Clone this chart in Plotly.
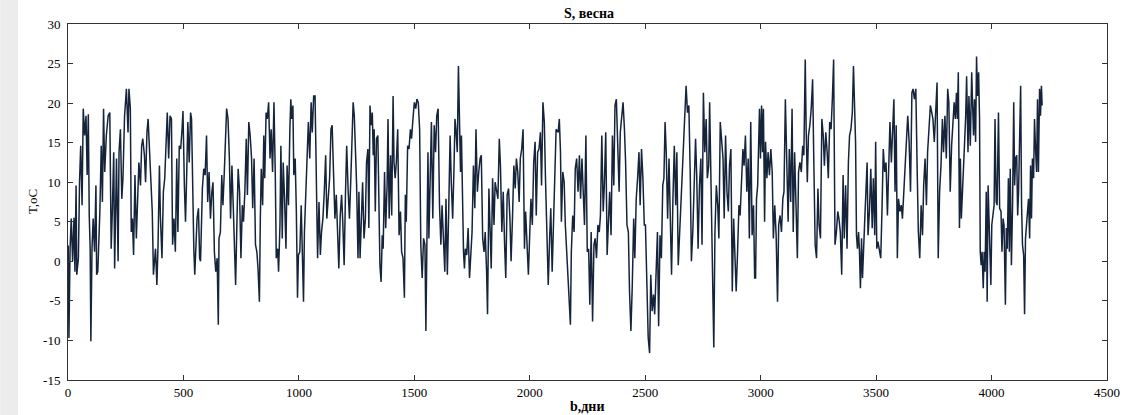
import plotly.graph_objects as go

# (day, temperature) readings, segment by segment
seg_0000_0400 = [(1, 2.0), (4, -9.7), (9, 1.6), (14, 5.4), (20, 0.0), (26, 5.5), (30, -1.3), (35, 9.6), (38, -1.7), (45, 0.4), (50, 10.0), (55, 14.6), (61, 7.1), (66, 19.3), (72, 15.9), (78, 18.4), (83, 10.9), (88, 18.6), (92, 5.8), (96, 1.6), (99, -10.1), (104, 1.6), (109, 5.4), (115, 1.2), (121, 9.6), (124, -1.7), (129, -1.3), (138, 6.3), (144, 14.6), (149, 7.5), (154, 19.3), (159, 11.3), (166, 15.9), (174, 18.4), (181, 18.8), (187, 1.6), (192, 6.3), (198, 13.8), (202, -0.9), (210, 13.0), (217, 0.0), (221, 13.8), (227, 16.7), (233, 7.9), (238, 10.5), (245, 18.4), (253, 21.8), (260, 16.3), (264, 21.8), (270, 19.3), (274, 3.7), (279, 5.4), (284, 0.8), (290, 10.9), (296, 2.9), (301, 7.1), (307, 12.5), (314, 9.6), (319, 14.6), (324, 15.5), (331, 13.4), (336, 10.0), (342, 16.3), (347, 18.0), (353, 13.4), (360, 10.5), (365, 6.3), (370, -1.7), (379, 1.6), (385, -3.0), (390, 2.1)]
seg_0400_0825 = [(396, 12.1), (400, 5.8), (407, 0.4), (413, 8.8), (419, 10.5), (425, 14.6), (430, 18.8), (436, 13.0), (442, 18.4), (448, 18.0), (453, 2.1), (459, 5.4), (465, 1.2), (471, 13.0), (476, 3.7), (482, 14.6), (488, 14.2), (494, 16.7), (498, 19.0), (504, 9.6), (509, 5.0), (514, 10.9), (519, 17.6), (525, 12.5), (531, 18.8), (535, 18.0), (539, 8.8), (545, 1.6), (549, -1.7), (554, 1.6), (559, 5.4), (565, 6.7), (570, 0.4), (574, 0.0), (578, 6.7), (582, 9.2), (588, 11.7), (594, 10.9), (600, 15.9), (605, 7.5), (611, 11.3), (617, 5.4), (623, 8.8), (628, 10.0), (634, 1.2), (640, -1.3), (646, 0.4), (651, -8.0), (654, 2.9), (660, 3.7), (666, 10.9), (671, 7.1), (677, 11.3), (683, 15.1), (687, 19.3), (693, 18.0), (699, 13.0), (704, 5.4), (710, 12.1), (716, 6.7), (720, 2.9), (726, -3.0), (732, 5.4), (737, 11.7), (743, 8.8), (749, 0.4), (755, 7.1), (760, 5.0), (766, 8.8), (772, 15.5), (777, 8.4), (783, 17.6), (789, 15.9), (795, 13.0), (800, 6.7), (806, 13.0), (812, 2.1), (818, 1.2), (823, -0.9)]
seg_0825_1255 = [(829, -5.1), (833, 5.4), (837, 11.7), (843, 7.1), (848, 15.9), (852, 10.5), (858, 18.8), (863, 18.0), (869, 20.1), (875, 13.0), (880, 16.7), (886, 11.3), (892, 20.1), (898, 10.5), (902, 0.4), (908, 1.6), (912, -1.3), (918, 4.6), (922, 14.6), (928, 2.9), (932, 12.5), (938, 7.9), (944, 1.6), (949, 12.1), (955, 7.1), (961, 16.7), (965, 20.5), (969, 18.0), (974, 19.7), (978, 10.9), (984, 13.0), (989, 6.3), (994, -4.6), (998, 0.8), (1004, 1.2), (1010, 7.1), (1015, 1.6), (1020, -5.1), (1024, 3.7), (1030, 7.9), (1035, 12.5), (1041, 17.6), (1047, 13.0), (1053, 20.1), (1058, 16.3), (1064, 20.9), (1070, 20.9), (1076, 6.3), (1081, 0.4), (1087, 7.5), (1093, 0.8), (1098, 3.7), (1104, 5.4), (1110, 8.8), (1116, 13.4), (1121, 5.4), (1127, 8.4), (1133, 10.5), (1139, 16.7), (1144, 17.2), (1150, 11.3), (1156, 5.4), (1162, 8.4), (1167, 2.9), (1173, -0.9), (1179, 5.8), (1185, 8.4), (1190, 5.0), (1196, -0.5), (1202, 8.8), (1207, 14.6), (1213, 9.2), (1219, 5.4), (1225, 10.5), (1230, 16.3), (1235, 20.1), (1240, 18.4), (1245, 14.6), (1250, 9.6)]
seg_1255_1690 = [(1256, 0.4), (1260, 8.8), (1265, 0.4), (1270, 5.0), (1276, 10.0), (1282, 2.9), (1288, 5.4), (1293, 12.5), (1299, 14.2), (1303, 4.2), (1308, 19.7), (1313, 17.2), (1318, 18.8), (1322, 13.4), (1326, 16.7), (1331, 6.3), (1336, 15.5), (1342, 15.9), (1346, 7.1), (1351, -0.5), (1356, -2.6), (1361, 3.3), (1365, 1.6), (1371, 11.3), (1376, 4.2), (1382, 9.6), (1386, 18.0), (1391, 5.4), (1397, 13.4), (1402, 5.8), (1408, 20.9), (1412, 12.5), (1417, 10.5), (1422, 12.5), (1428, 16.7), (1434, 3.3), (1440, 6.3), (1445, 1.2), (1451, 0.4), (1457, -4.6), (1461, 8.4), (1465, 5.0), (1471, 14.6), (1477, 14.2), (1483, 16.7), (1488, 15.5), (1494, 18.0), (1500, 20.1), (1506, 19.3), (1511, 20.5), (1517, 20.1), (1523, 16.7), (1528, 2.1), (1534, -2.1), (1540, 2.9), (1546, 2.1), (1550, -8.8), (1554, 3.7), (1559, 13.8), (1563, 2.9), (1569, 12.5), (1574, 17.6), (1580, 5.4), (1586, 17.2), (1592, 13.8), (1597, 18.4), (1603, 19.3), (1609, 7.1), (1615, 2.1), (1620, 7.1), (1626, 2.9), (1632, -1.3), (1637, 7.9), (1643, -1.7), (1649, 6.7), (1655, 15.9), (1660, 10.0), (1666, 5.4), (1672, 12.1), (1676, 18.0), (1680, 16.7), (1686, 13.8)]
seg_1690_2115 = [(1691, 24.7), (1696, 17.2), (1700, 11.3), (1704, 15.9), (1709, 4.6), (1713, 1.2), (1717, -0.9), (1721, 1.6), (1727, 0.8), (1733, 4.2), (1739, -2.1), (1744, 1.2), (1750, 3.7), (1756, 12.1), (1762, 6.7), (1767, 16.7), (1773, 8.8), (1779, 11.3), (1785, 13.0), (1790, 13.4), (1796, 2.9), (1802, 1.2), (1807, 3.7), (1813, -1.3), (1817, -6.7), (1823, 9.2), (1828, 3.3), (1833, -0.9), (1839, 10.5), (1845, 4.6), (1850, 10.0), (1856, 8.8), (1862, 7.9), (1868, 15.5), (1873, 12.1), (1879, 3.7), (1885, 8.8), (1891, 2.1), (1896, -2.1), (1902, 8.4), (1908, 9.2), (1914, 5.4), (1919, 0.0), (1925, 5.4), (1931, 12.1), (1937, 9.2), (1942, 13.0), (1948, 11.3), (1954, 7.5), (1959, 13.0), (1965, 14.2), (1971, 16.7), (1977, 1.6), (1982, 6.3), (1988, 2.9), (1994, -1.7), (2000, 3.7), (2005, 7.9), (2011, 4.6), (2017, 12.5), (2023, 15.1), (2028, 5.8), (2034, 13.8), (2040, 14.2), (2046, 16.3), (2051, 9.6), (2057, 20.1), (2063, 17.6), (2068, 10.5), (2074, 3.7), (2080, -3.0), (2086, 2.9), (2091, 6.7), (2097, -1.3), (2103, 5.4), (2109, 13.4), (2114, 16.7)]
seg_2115_2545 = [(2123, 16.3), (2128, 18.0), (2133, 13.8), (2137, 5.0), (2143, 11.3), (2149, 10.0), (2154, 4.6), (2160, 1.2), (2166, -1.7), (2171, -5.1), (2176, -8.0), (2180, 1.2), (2186, 5.8), (2192, 3.7), (2197, 11.7), (2203, 13.0), (2209, 8.8), (2215, 13.4), (2220, 7.9), (2226, 13.0), (2232, 7.5), (2237, 4.6), (2243, 15.9), (2249, 1.2), (2255, 1.6), (2260, -5.5), (2266, 3.7), (2272, -7.6), (2278, 2.1), (2283, 2.9), (2289, 0.4), (2295, 4.6), (2301, 3.7), (2306, 5.8), (2312, 15.9), (2318, 6.3), (2323, 9.6), (2329, 16.3), (2335, 0.8), (2341, 4.6), (2346, 8.8), (2352, 3.3), (2358, 15.9), (2364, 9.6), (2369, 19.7), (2375, 20.5), (2381, 14.6), (2387, 8.8), (2392, 16.3), (2398, 18.8), (2404, 20.1), (2410, 16.7), (2415, 12.5), (2421, 4.6), (2427, 3.7), (2432, -3.8), (2438, -8.8), (2444, -3.0), (2450, 5.4), (2455, 0.4), (2461, 7.9), (2467, 10.5), (2473, 13.8), (2478, 7.1), (2484, 14.2), (2490, 10.5), (2496, 4.6), (2501, 4.6), (2507, -4.2), (2513, -9.7), (2519, -11.6), (2524, -1.7), (2530, -6.3), (2536, -4.2), (2541, -6.7)]
seg_2545_2975 = [(2547, -1.7), (2553, 3.7), (2558, -8.2), (2564, 3.3), (2570, 0.4), (2576, 9.6), (2581, 10.5), (2586, 17.6), (2591, 13.8), (2597, 5.4), (2603, 13.0), (2609, 3.7), (2614, -1.7), (2620, 7.9), (2626, 14.6), (2632, 7.1), (2637, 13.8), (2643, -0.5), (2649, 3.7), (2655, 7.1), (2660, 11.7), (2666, 15.9), (2672, 18.0), (2677, 22.2), (2683, 18.8), (2689, 19.7), (2695, 10.9), (2700, 0.0), (2706, 3.7), (2712, 11.7), (2718, 15.5), (2723, 10.9), (2729, 1.6), (2735, 9.6), (2741, 13.0), (2746, 2.1), (2752, 21.3), (2758, 13.8), (2764, 18.0), (2769, 10.5), (2775, 12.1), (2779, 20.1), (2785, 8.4), (2791, -4.6), (2797, -10.9), (2802, 3.7), (2808, 9.6), (2814, 7.1), (2819, 2.9), (2825, 17.6), (2831, 14.6), (2837, 13.0), (2842, 5.4), (2848, 15.9), (2854, 8.8), (2860, 6.3), (2865, 12.1), (2871, 14.2), (2877, -3.8), (2883, 5.4), (2888, 1.2), (2894, -3.8), (2900, 1.2), (2906, 7.1), (2911, 5.8), (2917, 10.5), (2923, 14.2), (2928, 12.1), (2934, 15.9), (2940, 8.8), (2946, 13.0), (2951, 2.9), (2957, 17.6), (2963, 3.3), (2969, 7.1), (2974, -2.1)]
seg_2975_3405 = [(2978, -2.1), (2982, 7.9), (2987, 9.6), (2991, 14.6), (2995, 19.3), (2999, 13.0), (3004, 19.7), (3008, 13.8), (3012, 19.3), (3017, 5.0), (3021, 15.1), (3027, 10.5), (3032, 13.8), (3038, 10.9), (3044, 14.2), (3050, 11.3), (3055, 2.9), (3061, 7.1), (3067, 3.3), (3073, -5.1), (3078, 4.6), (3084, 5.8), (3090, 3.7), (3096, 7.9), (3101, 8.8), (3107, 20.5), (3113, 11.3), (3119, 5.0), (3124, 14.2), (3130, 7.5), (3136, 19.3), (3141, 3.7), (3147, 13.8), (3153, 7.1), (3159, 0.4), (3164, 11.3), (3170, 12.5), (3176, 11.3), (3182, 14.6), (3187, 13.4), (3193, 25.5), (3197, 16.7), (3202, 10.0), (3207, 15.9), (3213, 17.2), (3219, 19.3), (3225, 23.0), (3230, 13.0), (3236, 2.1), (3242, 0.4), (3248, 9.2), (3253, 4.6), (3259, 2.9), (3265, 18.0), (3271, 15.9), (3276, 12.1), (3282, 16.3), (3288, 13.8), (3293, 10.5), (3299, 17.6), (3305, 16.7), (3311, 20.9), (3316, 25.5), (3322, 2.1), (3328, 3.7), (3334, 6.3), (3339, 5.4), (3345, 3.7), (3351, -1.7), (3357, 10.9), (3362, 2.9), (3368, 9.6), (3374, 1.6), (3380, 12.5), (3385, 15.9), (3391, 16.7), (3397, 18.8), (3402, 24.7)]
seg_3405_3840 = [(3411, 15.1), (3415, 3.3), (3419, 1.6), (3424, 3.7), (3428, 1.2), (3432, -3.4), (3437, 2.9), (3441, -2.1), (3445, 2.1), (3451, 5.4), (3457, 9.6), (3461, 12.5), (3465, 3.3), (3471, 6.3), (3477, 11.7), (3483, 4.2), (3488, 10.5), (3494, 3.3), (3498, 15.1), (3503, 1.6), (3508, 2.5), (3514, 1.2), (3520, 0.4), (3526, 7.1), (3531, 14.2), (3537, 11.3), (3543, 12.5), (3549, 5.8), (3554, 10.5), (3560, 17.6), (3566, 12.5), (3571, 16.7), (3577, 20.5), (3582, 8.8), (3587, 17.2), (3592, 0.4), (3597, 7.9), (3603, 6.3), (3609, 7.1), (3614, 5.4), (3620, 8.8), (3626, 13.0), (3632, 16.7), (3637, 18.4), (3643, 15.1), (3649, 8.8), (3655, 21.3), (3660, 21.8), (3666, 20.5), (3672, 21.8), (3678, 11.3), (3683, 3.7), (3689, 0.4), (3695, 7.1), (3701, 3.3), (3706, 9.6), (3712, 13.0), (3718, 7.1), (3723, 13.8), (3729, 16.7), (3735, 19.7), (3741, 18.8), (3746, 18.0), (3752, 15.1), (3758, 20.1), (3764, 22.6), (3769, 0.4), (3775, 8.8), (3781, 12.1), (3787, 18.0), (3792, 13.8), (3798, 18.4), (3804, 13.0), (3810, 21.8), (3815, 20.1), (3821, 8.8), (3827, 14.6), (3832, 18.0), (3838, 20.1)]
seg_3840_4220 = [(3843, 18.0), (3848, 21.3), (3852, 18.0), (3856, 23.9), (3861, 4.2), (3865, 13.0), (3869, 5.4), (3873, 8.8), (3878, 11.7), (3882, 14.2), (3888, 18.4), (3892, 23.4), (3898, 13.8), (3902, 20.9), (3908, 14.6), (3914, 23.9), (3918, 19.7), (3922, 15.9), (3926, 20.5), (3931, 15.1), (3935, 25.9), (3939, 20.9), (3944, 23.9), (3948, 18.0), (3951, 1.2), (3955, -0.5), (3959, 1.2), (3964, -3.4), (3968, 1.2), (3972, -1.3), (3977, 8.8), (3981, -5.1), (3985, 9.6), (3991, 1.2), (3997, -3.0), (4001, 4.6), (4005, 5.8), (4011, 7.1), (4015, 18.0), (4020, 7.5), (4024, 7.1), (4030, 18.8), (4035, 6.7), (4041, 6.3), (4045, 1.2), (4050, 5.4), (4054, 4.6), (4060, -5.5), (4064, 4.2), (4068, 1.6), (4073, 10.5), (4077, 1.2), (4081, 11.7), (4086, -0.5), (4091, 7.1), (4096, 20.1), (4100, 9.6), (4104, 13.0), (4109, 13.4), (4113, 5.8), (4117, 8.8), (4121, 18.0), (4126, 22.2), (4130, 7.1), (4134, 2.1), (4139, 0.8), (4143, -6.7), (4147, 2.9), (4152, 4.6), (4156, 6.3), (4160, 7.9), (4165, 2.9), (4169, 12.1), (4173, 5.4), (4177, 13.0), (4182, 10.5), (4186, 18.0), (4190, 14.6), (4195, 11.3), (4199, 20.5), (4203, 11.3), (4208, 21.8), (4212, 18.4), (4216, 22.2), (4219, 19.7)]

x_ticks = [0, 500, 1000, 1500, 2000, 2500, 3000, 3500, 4000, 4500]
y_ticks = [-15, -10, -5, 0, 5, 10, 15, 20, 25, 30]
title_text = "S, весна"
x_label = "b,дни"
y_label = "T,oC"

segments = [seg_0000_0400, seg_0400_0825, seg_0825_1255, seg_1255_1690, seg_1690_2115,
            seg_2115_2545, seg_2545_2975, seg_2975_3405, seg_3405_3840, seg_3840_4220]
days = [d for seg in segments for d, _ in seg]
temps = [t for seg in segments for _, t in seg]

W, H = 1132, 415
L, R, T, B = 68, 22, 24, 35
pw, ph = W - L - R, H - T - B

fig = go.Figure()
fig.add_trace(go.Scatter(x=days, y=temps, mode="lines",
                         line=dict(color="#15243b", width=1.5), showlegend=False,
                         hoverinfo="skip"))

font = "Liberation Serif, Times New Roman, serif"
axis_common = dict(showgrid=False, zeroline=False, showline=True, mirror="ticks",
                   linecolor="#333", linewidth=1, ticks="inside", ticklen=5,
                   tickcolor="#333", tickfont=dict(family=font, size=13, color="#000"))
fig.update_xaxes(range=[0, 4500], tickvals=x_ticks, ticktext=[str(v) for v in x_ticks], **axis_common)
fig.update_yaxes(range=[-15, 30], tickvals=y_ticks, ticktext=[str(v) for v in y_ticks],
                 ticklabelstandoff=4, **axis_common)

fig.update_layout(
    width=W, height=H,
    margin=dict(l=L, r=R, t=T, b=B),
    paper_bgcolor="white", plot_bgcolor="white",
    title=dict(text="<b>" + title_text + "</b>", x=(L + pw / 2) / W, xanchor="center",
               y=1 - 13 / H, yanchor="middle", yref="container",
               font=dict(family=font, size=14, color="#000")),
    shapes=[dict(type="rect", xref="paper", yref="paper",
                 x0=-L / pw, x1=(18 - L) / pw, y0=-B / ph, y1=(ph + T) / ph,
                 fillcolor="#ececec", line=dict(width=0), layer="below")],
    annotations=[
        dict(text="<b>" + x_label + "</b>", xref="paper", yref="paper", x=0.5, y=-26 / ph,
             xanchor="center", yanchor="middle", showarrow=False,
             font=dict(family=font, size=14, color="#000")),
        dict(text=y_label, xref="paper", yref="paper", x=(32 - L) / pw, y=0.5,
             xanchor="center", yanchor="middle", textangle=-90, showarrow=False,
             font=dict(family=font, size=13, color="#000")),
    ],
)

fig.write_html("out.html")
